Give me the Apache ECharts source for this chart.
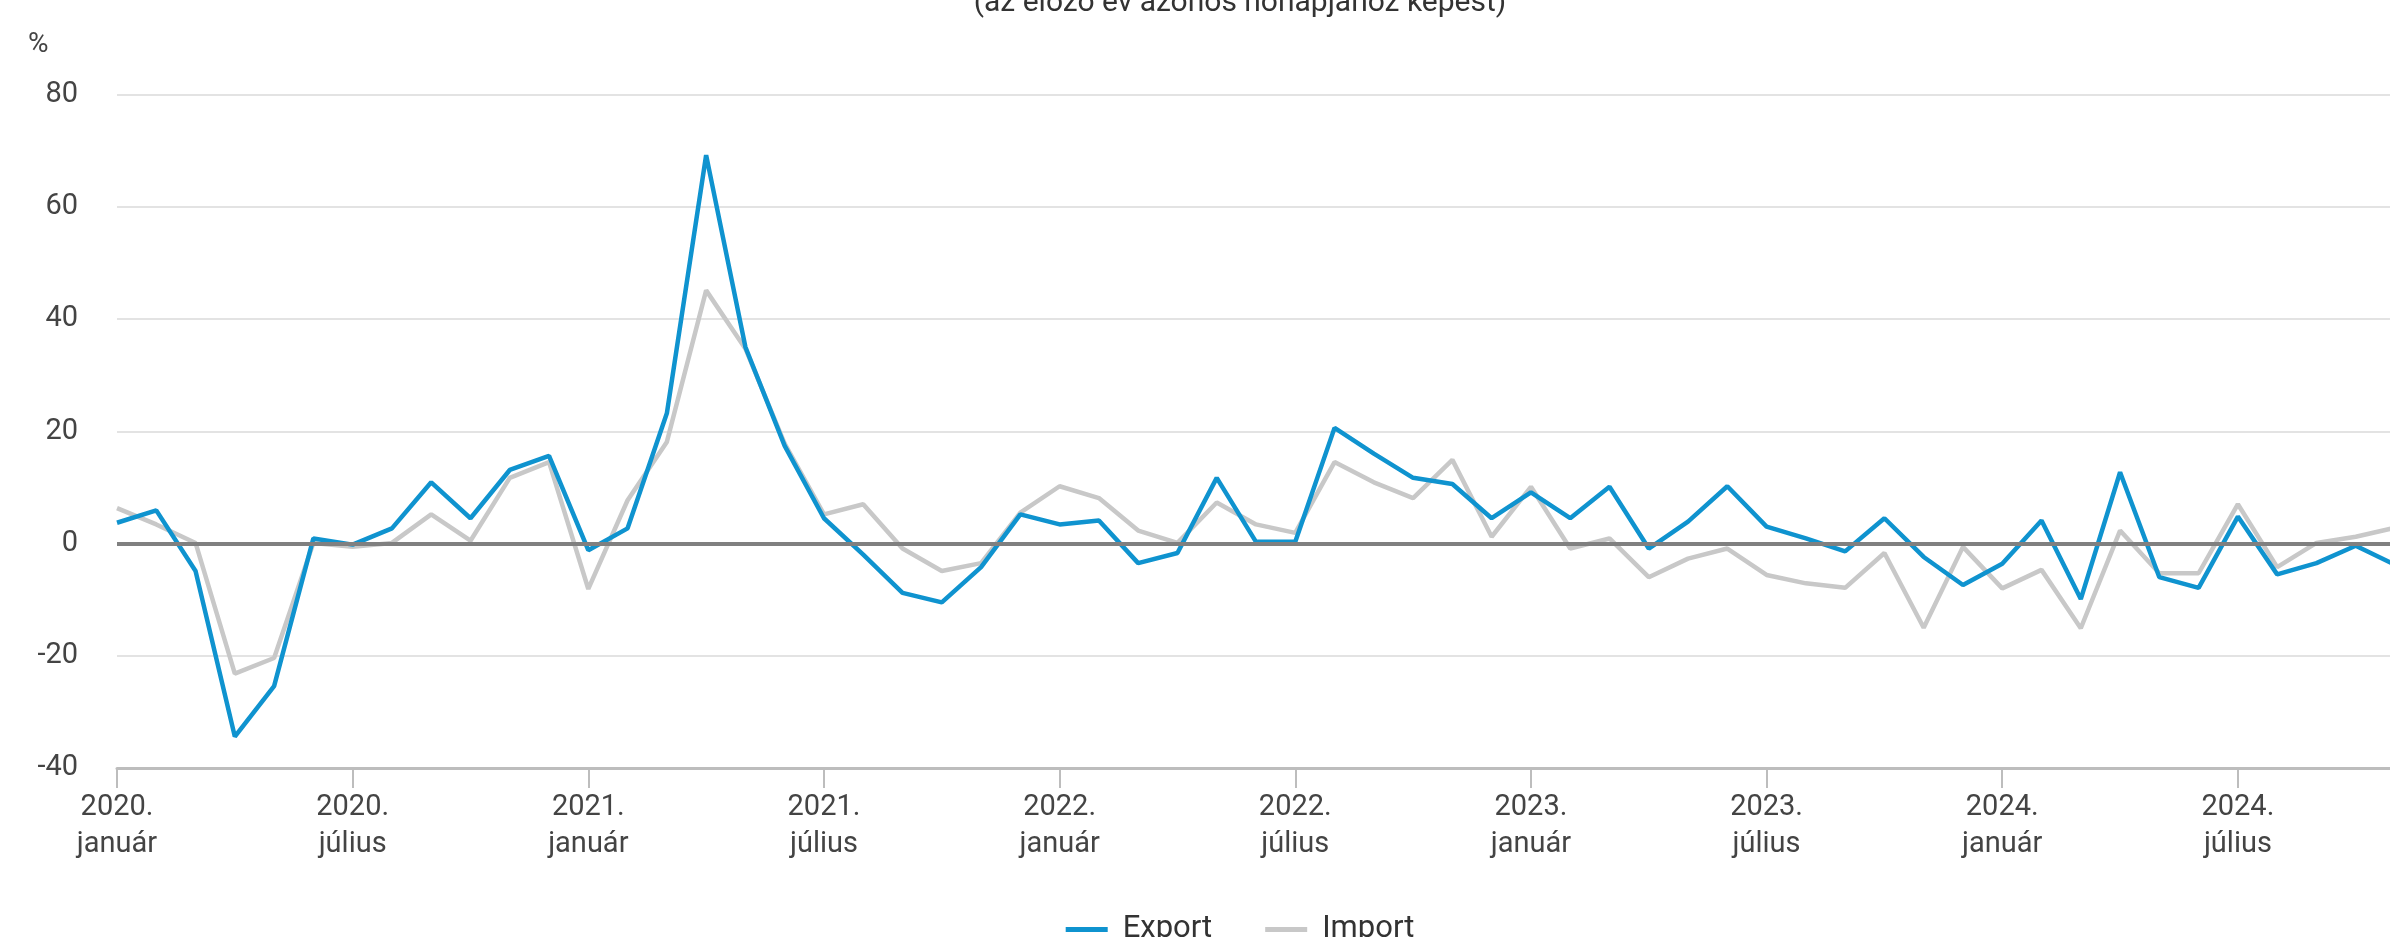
<!DOCTYPE html>
<html>
    <head>
        <meta charset="utf-8" />
        <script src="https://cdn.jsdelivr.net/npm/echarts@6/dist/echarts.min.js"></script>
        <style>
            html, body { margin: 0; padding: 0; overflow: hidden; background: #fff; }
        </style>
    </head>
    <body>
        <!-- the chart is wider than the window, its right end is cut off -->
        <div id="main" style="width: 2480px; height: 937px"></div>
        <script type="text/javascript">
            // months 2020 January .. 2024 November
            const years = [2020, 2021, 2022, 2023, 2024];
            const monthNames = ["január", "február", "március", "április", "május", "június",
                "július", "augusztus", "szeptember", "október", "november", "december"];
            const monthCount = 59;

            // year-on-year change, %
            const exportValues = [
                3.7, 5.9, -4.9, -34.4, -25.4, 0.9, -0.2, 2.7, 10.9, 4.5, 13.1, 15.6,
                -1.2, 2.7, 23.2, 69.2, 35.0, 17.4, 4.5, -2.0, -8.8, -10.5, -4.2, 5.2,
                3.4, 4.1, -3.5, -1.7, 11.7, 0.3, 0.3, 20.6, 16.0, 11.7, 10.6, 4.5,
                9.1, 4.5, 10.1, -0.9, 3.9, 10.2, 3.0, 0.9, -1.4, 4.5, -2.4, -7.4,
                -3.6, 4.1, -9.9, 12.7, -6.0, -7.9, 4.8, -5.5, -3.5, -0.4, -3.8
            ];
            const importValues = [
                6.3, 3.4, 0.1, -23.2, -20.4, 0.1, -0.6, 0.1, 5.2, 0.5, 11.7, 14.5,
                -8.1, 7.7, 18.1, 45.1, 34.7, 17.8, 5.2, 7.0, -0.9, -4.9, -3.5, 5.5,
                10.2, 8.1, 2.3, 0.1, 7.3, 3.4, 1.9, 14.5, 10.9, 8.1, 14.9, 1.2,
                10.1, -0.9, 0.9, -6.0, -2.7, -0.9, -5.6, -7.1, -7.9, -1.7, -15.0, -0.6,
                -8.0, -4.7, -15.1, 2.3, -5.3, -5.3, 7.0, -4.2, 0.1, 1.2, 2.8
            ];
            const yTicks = { min: -40, max: 80, step: 20 };

            let categories = [];
            for (let i = 0; i < monthCount; i++) {
                const y = years[Math.floor(i / 12)];
                categories.push(y + ".\n" + monthNames[i % 12]);
            }

            const font = "Roboto";
            const textColor = "#444";

            var myChart = echarts.init(document.getElementById("main"));
            myChart.setOption({
                animation: false,
                title: {
                    text: "(az előző év azonos hónapjához képest)",
                    left: "center",
                    top: -17,
                    textStyle: { fontFamily: font, fontSize: 30, fontWeight: "normal", color: "#333" },
                },
                graphic: [
                    {
                        type: "text",
                        left: 28,
                        top: 31,
                        style: { text: "%", font: "28px Roboto", fill: textColor },
                    },
                ],
                legend: {
                    data: ["Export", "Import"],
                    left: "center",
                    top: 909,
                    icon: "rect",
                    itemWidth: 42,
                    itemHeight: 5,
                    itemGap: 53,
                    textStyle: { fontFamily: font, fontSize: 31, color: "#333", padding: [0, 0, 0, 10] },
                },
                grid: {
                    left: 117,
                    right: 85,
                    top: 94.5,
                    bottom: 169,
                },
                xAxis: {
                    type: "category",
                    data: categories,
                    boundaryGap: false,
                    axisLine: { onZero: false, lineStyle: { color: "#bdbdbd", width: 3 } },
                    axisTick: { interval: 5, length: 20, lineStyle: { color: "#bdbdbd", width: 2 } },
                    axisLabel: {
                        interval: 5,
                        margin: 21,
                        fontFamily: font,
                        fontSize: 29,
                        lineHeight: 37,
                        color: textColor,
                    },
                    splitLine: { show: false },
                },
                yAxis: {
                    type: "value",
                    min: yTicks.min,
                    max: yTicks.max,
                    interval: yTicks.step,
                    axisLine: { show: false },
                    axisTick: { show: false },
                    axisLabel: { margin: 39, fontFamily: font, fontSize: 29, color: textColor },
                    splitLine: { lineStyle: { color: "#e3e3e3", width: 2 } },
                },
                series: [
                    {
                        name: "Import",
                        type: "line",
                        z: 2,
                        data: importValues,
                        symbol: "none",
                        lineStyle: { color: "#c8c8c8", width: 4.5 },
                        itemStyle: { color: "#c8c8c8" },
                        markLine: {
                            silent: true,
                            symbol: "none",
                            label: { show: false },
                            lineStyle: { color: "#808080", width: 4, type: "solid" },
                            data: [{ yAxis: 0 }],
                        },
                    },
                    {
                        name: "Export",
                        type: "line",
                        z: 3,
                        data: exportValues,
                        symbol: "none",
                        lineStyle: { color: "#0f93cf", width: 4.5 },
                        itemStyle: { color: "#0f93cf" },
                    },
                ],
            });
        </script>
    </body>
</html>
